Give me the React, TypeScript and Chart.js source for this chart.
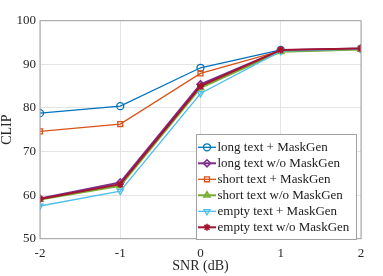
import React, { useEffect, useRef } from "react";
import { Chart, registerables } from "chart.js";
import { drawPoint } from "chart.js/helpers";

Chart.register(...registerables);

const snr = [-2, -1, 0, 1, 2];
const longMask = [78.8, 80.4, 89.2, 93.3, 93.6];
const longNo = [59.2, 62.9, 85.4, 93.2, 93.6];
const shortMask = [74.6, 76.3, 87.9, 93.1, 93.6];
const shortNo = [59.0, 62.1, 84.6, 92.9, 93.4];
const emptyMask = [57.5, 60.9, 83.3, 93.0, 93.5];
const emptyNo = [59.1, 62.5, 85.0, 93.3, 93.6];

const labels = [
  "long text + MaskGen",
  "long text w/o MaskGen",
  "short text + MaskGen",
  "short text w/o MaskGen",
  "empty text + MaskGen",
  "empty text w/o MaskGen",
];
const colors = ["#0072BD", "#7E2F8E", "#D95319", "#77AC30", "#4DBEEE", "#A2142F"];
const styles = ["circle", "rectRot", "rect", "triangle", "triangle", "star"];
const rotations = [0, 0, 0, 0, 180, 0];
const widths = [1.3, 2, 1.3, 2, 1.3, 2];
const series = [longMask, longNo, shortMask, shortNo, emptyMask, emptyNo];

const FONT = "'Liberation Serif', 'Times New Roman', serif";

const frameLegend = {
  id: "frameLegend",
  afterDatasetsDraw(chart: any) {
    const { ctx, chartArea } = chart;
    ctx.save();
    ctx.strokeStyle = "#a0a0a0";
    ctx.lineWidth = 1;
    ctx.strokeRect(chartArea.left, chartArea.top, chartArea.right - chartArea.left, chartArea.bottom - chartArea.top);
    // legend box
    const bx = 196, by = 134, bw = 160, bh = 105;
    ctx.fillStyle = "#ffffff";
    ctx.fillRect(bx, by, bw, bh);
    ctx.strokeRect(bx + 0.5, by + 0.5, bw, bh);
    chart.data.datasets.forEach((ds: any, i: number) => {
      const cy = 147.3 + 16 * i;
      ctx.strokeStyle = ds.borderColor;
      ctx.lineWidth = ds.borderWidth;
      ctx.beginPath();
      ctx.moveTo(198, cy);
      ctx.lineTo(216, cy);
      ctx.stroke();
      ctx.fillStyle = ds.pointBackgroundColor;
      ctx.strokeStyle = ds.borderColor;
      ctx.lineWidth = ds.pointBorderWidth;
      drawPoint(ctx, { pointStyle: ds.pointStyle, radius: ds.pointRadius, rotation: ds.pointRotation, borderWidth: ds.pointBorderWidth }, 207, cy);
      ctx.fillStyle = "#1a1a1a";
      ctx.font = `13px ${FONT}`;
      ctx.textBaseline = "middle";
      ctx.textAlign = "left";
      ctx.fillText(ds.label, 217.5, cy);
    });
    ctx.restore();
  },
};

export default function App() {
  const ref = useRef<HTMLCanvasElement>(null);
  useEffect(() => {
    document.body.style.margin = "0";
    const datasets = series.map((vals, i) => ({
      label: labels[i],
      data: vals.map((v, j) => ({ x: snr[j], y: v })),
      borderColor: colors[i],
      backgroundColor: colors[i],
      borderWidth: widths[i],
      pointStyle: styles[i],
      pointRotation: rotations[i],
      pointRadius: 3.5,
      pointBorderWidth: widths[i] > 1.5 ? 1.6 : 1.3,
      pointBackgroundColor: i === 5 ? colors[i] : "rgba(255,255,255,0)",
      pointBorderColor: colors[i],
      order: 6 - i,
      tension: 0,
    }));
    const chart = new Chart(ref.current!, {
      type: "line",
      data: { datasets },
      plugins: [frameLegend],
      options: {
        animation: false,
        responsive: false,
        layout: { padding: { top: 20.7, right: 22, left: 0, bottom: 0 } },
        plugins: { legend: { display: false }, tooltip: { enabled: false } },
        scales: {
          x: {
            type: "linear",
            min: -2,
            max: 2,
            afterFit: (s: any) => { s.height = 37.3; },
            ticks: { stepSize: 1, color: "#262626", font: { family: FONT, size: 13 }, padding: 7 },
            grid: { color: "#e4e4e4", drawTicks: false },
            border: { display: false },
            title: { display: true, text: "SNR (dB)", color: "#262626", font: { family: FONT, size: 14, lineHeight: 1 }, padding: { top: 0, bottom: 2.5 } },
          },
          y: {
            min: 50,
            max: 100,
            afterFit: (s: any) => { s.width = 40; },
            ticks: { stepSize: 10, color: "#262626", font: { family: FONT, size: 13 }, padding: 4 },
            grid: { color: "#e4e4e4", drawTicks: false },
            border: { display: false },
            title: { display: true, text: "CLIP", color: "#262626", font: { family: FONT, size: 14, lineHeight: 1 }, padding: { top: 0, bottom: 0 } },
          },
        },
      },
    } as any);
    return () => chart.destroy();
  }, []);
  return (
    <div style={{ position: "absolute", left: 0, top: 0, width: 383, height: 276 }}>
      <canvas ref={ref} width={383} height={276} style={{ width: 383, height: 276, display: "block" }} />
    </div>
  );
}
